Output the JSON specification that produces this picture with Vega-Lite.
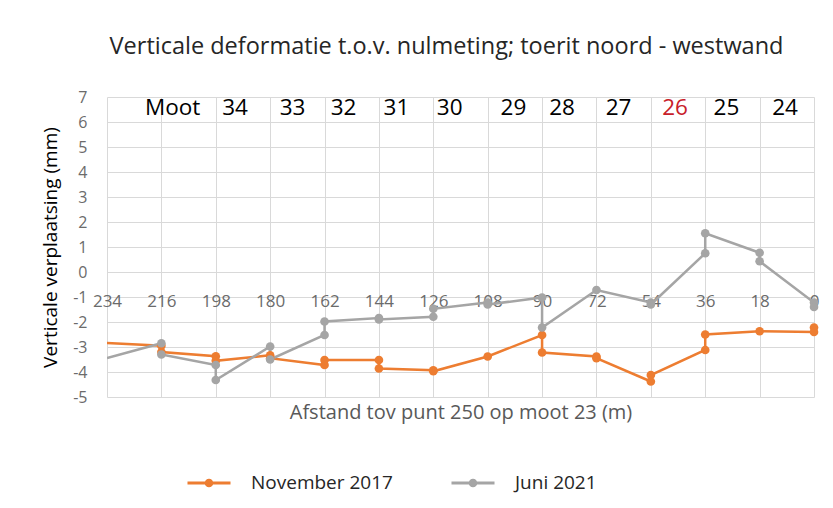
{
  "$schema": "https://vega.github.io/schema/vega-lite/v6.json",
  "width": 707,
  "height": 300,
  "autosize": {"type": "none"},
  "padding": {"left": 107, "top": 97, "right": 19, "bottom": 111},
  "background": "white",
  "config": {"view": {"stroke": null}, "font": "Open Sans"},
  "title": {
    "text": "Verticale deformatie t.o.v. nulmeting; toerit noord - westwand",
    "fontSize": 23.5,
    "fontWeight": "normal",
    "color": "#262626",
    "offset": 31,
    "anchor": "middle",
    "dx": -14
  },
  "datasets": {
    "meting": [
      {"seq": 1, "serie": "November 2017", "afstand": 234, "verplaatsing": -2.84},
      {"seq": 2, "serie": "November 2017", "afstand": 216, "verplaatsing": -2.95},
      {"seq": 3, "serie": "November 2017", "afstand": 216, "verplaatsing": -3.2},
      {"seq": 4, "serie": "November 2017", "afstand": 198, "verplaatsing": -3.37},
      {"seq": 5, "serie": "November 2017", "afstand": 198, "verplaatsing": -3.55},
      {"seq": 6, "serie": "November 2017", "afstand": 180, "verplaatsing": -3.33},
      {"seq": 7, "serie": "November 2017", "afstand": 180, "verplaatsing": -3.45},
      {"seq": 8, "serie": "November 2017", "afstand": 162, "verplaatsing": -3.72},
      {"seq": 9, "serie": "November 2017", "afstand": 162, "verplaatsing": -3.52},
      {"seq": 10, "serie": "November 2017", "afstand": 144, "verplaatsing": -3.52},
      {"seq": 11, "serie": "November 2017", "afstand": 144, "verplaatsing": -3.86},
      {"seq": 12, "serie": "November 2017", "afstand": 126, "verplaatsing": -3.93},
      {"seq": 13, "serie": "November 2017", "afstand": 126, "verplaatsing": -3.97},
      {"seq": 14, "serie": "November 2017", "afstand": 108, "verplaatsing": -3.38},
      {"seq": 15, "serie": "November 2017", "afstand": 90, "verplaatsing": -2.52},
      {"seq": 16, "serie": "November 2017", "afstand": 90, "verplaatsing": -3.22},
      {"seq": 17, "serie": "November 2017", "afstand": 72, "verplaatsing": -3.38},
      {"seq": 18, "serie": "November 2017", "afstand": 72, "verplaatsing": -3.45},
      {"seq": 19, "serie": "November 2017", "afstand": 54, "verplaatsing": -4.38},
      {"seq": 20, "serie": "November 2017", "afstand": 54, "verplaatsing": -4.12},
      {"seq": 21, "serie": "November 2017", "afstand": 36, "verplaatsing": -3.12},
      {"seq": 22, "serie": "November 2017", "afstand": 36, "verplaatsing": -2.5},
      {"seq": 23, "serie": "November 2017", "afstand": 18, "verplaatsing": -2.37},
      {"seq": 24, "serie": "November 2017", "afstand": 0, "verplaatsing": -2.4},
      {"seq": 25, "serie": "November 2017", "afstand": 0, "verplaatsing": -2.22},
      {"seq": 1, "serie": "Juni 2021", "afstand": 234, "verplaatsing": -3.44},
      {"seq": 2, "serie": "Juni 2021", "afstand": 216, "verplaatsing": -2.85},
      {"seq": 3, "serie": "Juni 2021", "afstand": 216, "verplaatsing": -3.3},
      {"seq": 4, "serie": "Juni 2021", "afstand": 198, "verplaatsing": -3.72},
      {"seq": 5, "serie": "Juni 2021", "afstand": 198, "verplaatsing": -4.32},
      {"seq": 6, "serie": "Juni 2021", "afstand": 180, "verplaatsing": -2.98},
      {"seq": 7, "serie": "Juni 2021", "afstand": 180, "verplaatsing": -3.5},
      {"seq": 8, "serie": "Juni 2021", "afstand": 162, "verplaatsing": -2.52},
      {"seq": 9, "serie": "Juni 2021", "afstand": 162, "verplaatsing": -1.98},
      {"seq": 10, "serie": "Juni 2021", "afstand": 144, "verplaatsing": -1.84},
      {"seq": 11, "serie": "Juni 2021", "afstand": 144, "verplaatsing": -1.9},
      {"seq": 12, "serie": "Juni 2021", "afstand": 126, "verplaatsing": -1.79},
      {"seq": 13, "serie": "Juni 2021", "afstand": 126, "verplaatsing": -1.47},
      {"seq": 14, "serie": "Juni 2021", "afstand": 108, "verplaatsing": -1.22},
      {"seq": 15, "serie": "Juni 2021", "afstand": 108, "verplaatsing": -1.3},
      {"seq": 16, "serie": "Juni 2021", "afstand": 90, "verplaatsing": -1.02},
      {"seq": 17, "serie": "Juni 2021", "afstand": 90, "verplaatsing": -2.22},
      {"seq": 18, "serie": "Juni 2021", "afstand": 72, "verplaatsing": -0.72},
      {"seq": 19, "serie": "Juni 2021", "afstand": 54, "verplaatsing": -1.22},
      {"seq": 20, "serie": "Juni 2021", "afstand": 54, "verplaatsing": -1.3},
      {"seq": 21, "serie": "Juni 2021", "afstand": 36, "verplaatsing": 0.75},
      {"seq": 22, "serie": "Juni 2021", "afstand": 36, "verplaatsing": 1.55},
      {"seq": 23, "serie": "Juni 2021", "afstand": 18, "verplaatsing": 0.77},
      {"seq": 24, "serie": "Juni 2021", "afstand": 18, "verplaatsing": 0.43},
      {"seq": 25, "serie": "Juni 2021", "afstand": 0, "verplaatsing": -1.22},
      {"seq": 26, "serie": "Juni 2021", "afstand": 0, "verplaatsing": -1.4}
    ],
    "moten": [
      {"label": "Moot", "afstand": 212.3, "niveau": 6.55},
      {"label": "34", "afstand": 191.6, "niveau": 6.55},
      {"label": "33", "afstand": 172.6, "niveau": 6.55},
      {"label": "32", "afstand": 155.7, "niveau": 6.55},
      {"label": "31", "afstand": 138.2, "niveau": 6.55},
      {"label": "30", "afstand": 120.6, "niveau": 6.55},
      {"label": "29", "afstand": 99.5, "niveau": 6.55},
      {"label": "28", "afstand": 83.4, "niveau": 6.55},
      {"label": "27", "afstand": 64.7, "niveau": 6.55},
      {"label": "26", "afstand": 46, "niveau": 6.55},
      {"label": "25", "afstand": 29, "niveau": 6.55},
      {"label": "24", "afstand": 9.6, "niveau": 6.55}
    ]
  },
  "layer": [
    {
      "data": {"name": "meting"},
      "mark": {"type": "line", "strokeWidth": 2.5, "clip": true},
      "encoding": {
        "x": {
          "field": "afstand",
          "type": "quantitative",
          "scale": {"domain": [0, 234], "reverse": true, "nice": false, "zero": false},
          "axis": {
            "title": "Afstand tov punt 250 op moot 23 (m)",
            "values": [0, 18, 36, 54, 72, 90, 108, 126, 144, 162, 180, 198, 216, 234],
            "tickCount": 20,
            "labelExpr": "datum.value + ''",
            "labelPadding": -104,
            "ticks": false,
            "domain": false,
            "grid": true,
            "gridColor": "#d9d9d9",
            "gridWidth": 1,
            "labelFontSize": 17,
            "labelColor": "#6b6b6b",
            "labelOverlap": false,
            "labelFlush": false,
            "labelBound": false,
            "titleFontSize": 20,
            "titleColor": "#595959",
            "titleFontWeight": "normal",
            "titlePadding": 5,
            "minExtent": 0,
            "maxExtent": 0
          }
        },
        "y": {
          "field": "verplaatsing",
          "type": "quantitative",
          "scale": {"domain": [-5, 7], "nice": false, "zero": false},
          "axis": {
            "title": "Verticale verplaatsing (mm)",
            "values": [-5, -4, -3, -2, -1, 0, 1, 2, 3, 4, 5, 6, 7],
            "tickCount": 20,
            "labelExpr": "datum.value + ''",
            "labelOverlap": false,
            "labelFlush": false,
            "labelBound": false,
            "ticks": false,
            "domain": false,
            "grid": true,
            "gridColor": "#d9d9d9",
            "labelFontSize": 16,
            "labelColor": "#6b6b6b",
            "labelPadding": 20,
            "titleFontSize": 19,
            "titleColor": "#000000",
            "titleFontWeight": "normal",
            "titlePadding": 12
          }
        },
        "color": {
          "field": "serie",
          "type": "nominal",
          "scale": {"domain": ["November 2017", "Juni 2021"], "range": ["#ed7d31", "#a5a5a5"]},
          "legend": {
            "orient": "none",
            "direction": "horizontal",
            "legendX": 80,
            "legendY": 364,
            "title": null,
            "labelFontSize": 19,
            "labelColor": "#262626",
            "labelOffset": 20,
            "columnPadding": 58,
            "symbolType": "M-1,-0.07L1,-0.07L1,0.07L-1,0.07Z M0.2,0A0.2,0.2 0 1,1 -0.2,0A0.2,0.2 0 1,1 0.2,0Z",
            "symbolSize": 1850,
            "symbolStrokeWidth": 0,
            "encode": {"symbols": {"update": {"fill": {"scale": "color", "field": "value"}, "stroke": {"value": "transparent"}, "opacity": {"value": 1}}}}
          }
        },
        "order": {"field": "seq", "type": "quantitative"}
      }
    },
    {
      "data": {"name": "meting"},
      "transform": [{"filter": "datum.afstand < 234"}],
      "mark": {"type": "point", "filled": true, "size": 75, "opacity": 1},
      "encoding": {
        "x": {"field": "afstand", "type": "quantitative"},
        "y": {"field": "verplaatsing", "type": "quantitative"},
        "color": {"field": "serie", "type": "nominal"}
      }
    },
    {
      "data": {"name": "moten"},
      "mark": {"type": "text", "fontSize": 22.5, "baseline": "middle", "align": "center"},
      "encoding": {
        "x": {"field": "afstand", "type": "quantitative"},
        "y": {"field": "niveau", "type": "quantitative"},
        "text": {"field": "label"},
        "color": {"condition": {"test": "datum.label === '26'", "value": "#c8202a"}, "value": "#000000"}
      }
    }
  ]
}
